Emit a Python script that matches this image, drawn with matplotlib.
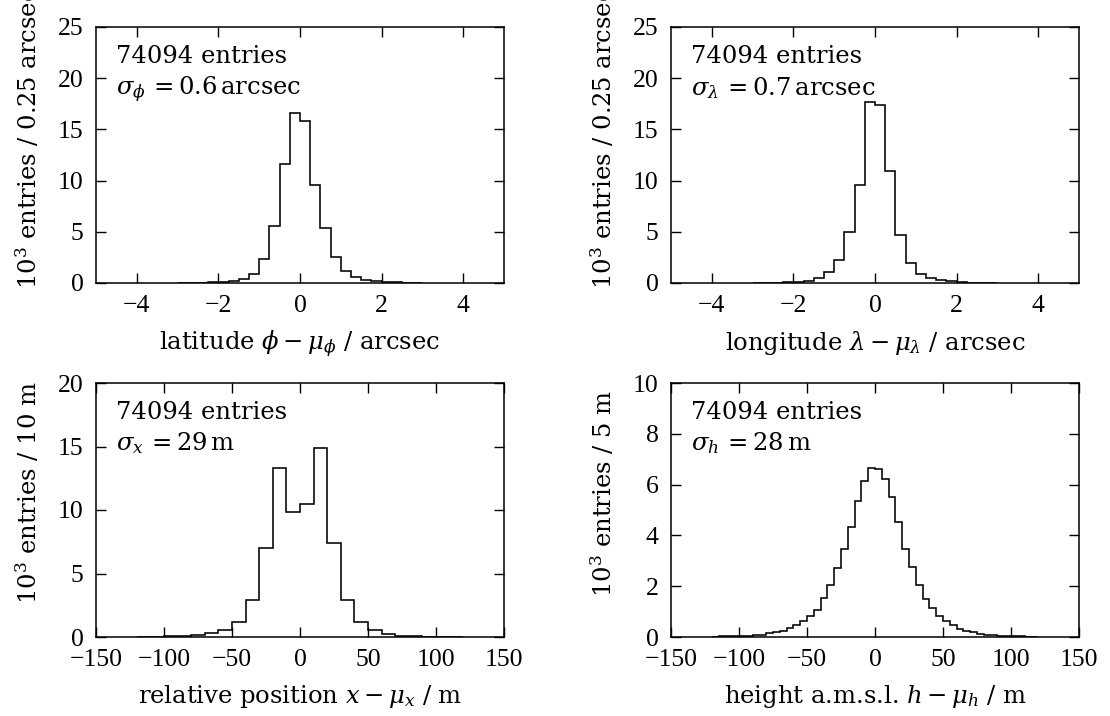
import numpy as np
import matplotlib
matplotlib.use("Agg")
import matplotlib.pyplot as plt

# Histogram contents in units of 10^3 entries per bin
lat_start, lat_width = -3.0, 0.25
lat_counts = [0.01, 0.02, 0.03, 0.05, 0.10, 0.20, 0.39, 0.88, 2.38, 5.57, 11.62, 16.60,
              15.82, 9.54, 5.37, 2.54, 1.14, 0.62, 0.33, 0.16, 0.08, 0.05, 0.03, 0.01]

lon_start, lon_width = -3.0, 0.25
lon_counts = [0.01, 0.02, 0.03, 0.06, 0.12, 0.24, 0.46, 1.04, 2.28, 5.01, 9.60, 17.64,
              17.38, 10.97, 4.72, 1.95, 0.91, 0.49, 0.26, 0.15, 0.08, 0.04, 0.02, 0.01]

pos_start, pos_width = -120.0, 10.0
pos_counts = [0.01, 0.02, 0.04, 0.07, 0.16, 0.31, 0.58, 1.18, 2.93, 6.99, 13.30, 9.84,
              10.47, 14.92, 7.38, 2.93, 1.18, 0.52, 0.26, 0.10, 0.05, 0.03, 0.01, 0.01]

hgt_start, hgt_width = -120.0, 5.0
hgt_counts = [0.01, 0.02, 0.02, 0.03, 0.04, 0.05, 0.08, 0.09, 0.14, 0.18, 0.25, 0.35,
              0.46, 0.64, 0.84, 1.07, 1.52, 2.05, 2.71, 3.47, 4.32, 5.37, 6.15, 6.66,
              6.61, 6.24, 5.50, 4.54, 3.46, 2.77, 2.03, 1.49, 1.14, 0.81, 0.62, 0.46,
              0.31, 0.24, 0.18, 0.13, 0.09, 0.07, 0.05, 0.04, 0.03, 0.02, 0.01, 0.01]

n_entries = 74094

x_labels = [r"latitude $\phi - \mu_\phi$ / arcsec",
            r"longitude $\lambda - \mu_\lambda$ / arcsec",
            r"relative position $x - \mu_x$ / m",
            r"height a.m.s.l. $h - \mu_h$ / m"]
y_labels = [r"$10^3$ entries / 0.25 arcsec",
            r"$10^3$ entries / 0.25 arcsec",
            r"$10^3$ entries / 10 m",
            r"$10^3$ entries / 5 m"]
sigma_labels = [r"$\sigma_\phi\, = 0.6\,\mathrm{arcsec}$",
                r"$\sigma_\lambda\, = 0.7\,\mathrm{arcsec}$",
                r"$\sigma_x\, = 29\,\mathrm{m}$",
                r"$\sigma_h\, = 28\,\mathrm{m}$"]

plt.rcParams.update({
    "font.family": "DejaVu Serif",
    "mathtext.fontset": "dejavuserif",
    "font.size": 17.5,
    "axes.linewidth": 1.1,
    "axes.unicode_minus": True,
})

W, H = 1110, 716
fig = plt.figure(figsize=(W / 100, H / 100), dpi=100)

def frac(left, top, right, bottom):
    return [left / W, 1 - bottom / H, (right - left) / W, (bottom - top) / H]

rects = [frac(96, 27, 504, 283), frac(671, 27, 1079, 283),
         frac(96, 383, 504, 637), frac(671, 383, 1079, 637)]

panels = [
    (lat_start, lat_width, lat_counts, (-5, 5), np.arange(-4, 5, 2), (0, 25), np.arange(0, 26, 5)),
    (lon_start, lon_width, lon_counts, (-5, 5), np.arange(-4, 5, 2), (0, 25), np.arange(0, 26, 5)),
    (pos_start, pos_width, pos_counts, (-150, 150), np.arange(-150, 151, 50), (0, 20), np.arange(0, 21, 5)),
    (hgt_start, hgt_width, hgt_counts, (-150, 150), np.arange(-150, 151, 50), (0, 10), np.arange(0, 11, 2)),
]

for i, (start, width, counts, xlim, xt, ylim, yt) in enumerate(panels):
    ax = fig.add_axes(rects[i])
    edges = start + width * np.arange(len(counts) + 1)
    ax.stairs(counts, edges, color="black", lw=1.15, baseline=None)
    ax.set_xlim(*xlim)
    ax.set_ylim(*ylim)
    ax.set_xticks(xt)
    ax.set_yticks(yt)
    ax.tick_params(direction="in", top=True, right=True, length=7, width=1.0,
                   labelsize=18.5, labelfontfamily="Liberation Serif")
    ax.tick_params(axis="x", pad=9)
    ax.tick_params(axis="y", pad=9)
    ax.set_xlabel(x_labels[i], labelpad=8)
    ax.set_ylabel(y_labels[i], va="center")
    ax.yaxis.set_label_coords(-0.167, 0.567)
    ax.text(0.05, 0.86, f"{n_entries} entries", transform=ax.transAxes, va="baseline")
    ax.text(0.05, 0.735, sigma_labels[i], transform=ax.transAxes, va="baseline")

fig.savefig("out.png", dpi=100)
